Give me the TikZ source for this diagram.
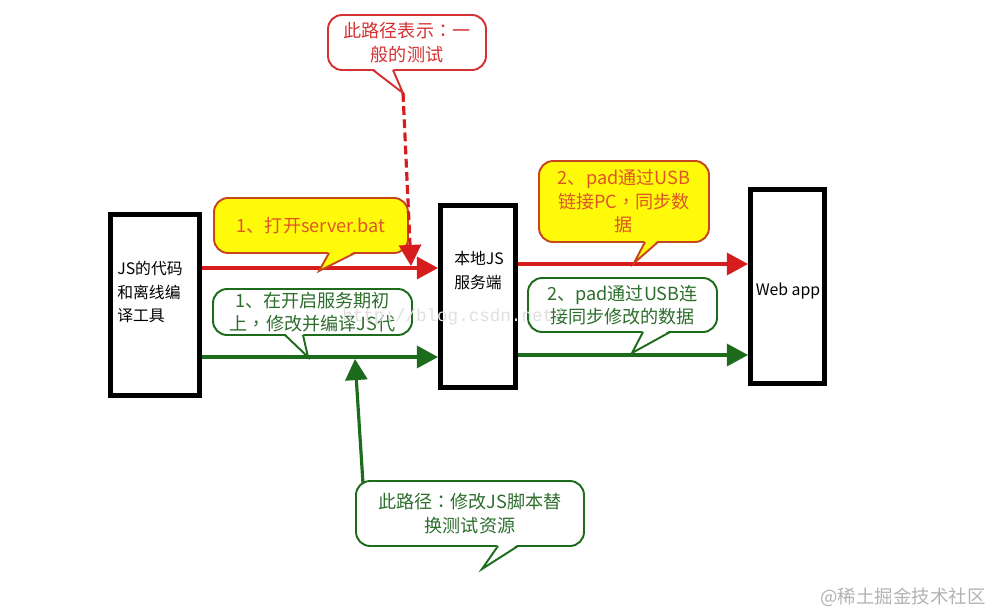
\documentclass[tikz,border=0pt]{standalone}
\usepackage{fontspec}
\newfontfamily\cjk{Noto Sans CJK SC}
\newfontfamily\cjktc{Noto Sans CJK TC}
\newfontfamily\wmfont{Liberation Mono}
\usetikzlibrary{arrows.meta}

\definecolor{lred}{RGB}{214,28,28}
\definecolor{nred}{RGB}{212,50,50}
\definecolor{yfill}{RGB}{255,250,10}
\definecolor{ybord}{RGB}{200,70,30}
\definecolor{ytext}{RGB}{222,85,40}
\definecolor{lgreen}{RGB}{28,108,28}
\definecolor{gtext}{RGB}{45,110,45}

\newcommand{\notetail}[5]{%
  \fill[#1] ([yshift=1pt]#3) -- (#5) -- ([yshift=1pt]#4) -- cycle;
  \draw[#2,line width=1.1pt] (#3) -- (#5) -- (#4);
}
\newcommand{\cpunct}[1]{{\cjktc #1}}

\begin{document}
\begin{tikzpicture}[x=0.02cm,y=-0.02cm,
  box/.style={draw,line width=2.8pt,outer sep=1.4pt,inner sep=0pt},
  boxtext/.style={font=\cjk\fontsize{9}{13.6}\selectfont,align=left,inner sep=0pt},
  note/.style={line width=1.1pt,rounded corners=8pt,inner sep=0pt,outer sep=0pt,align=center,font=\cjk\fontsize{10.3}{13.4}\selectfont},
  rednote/.style={note,draw=nred,fill=white,text=nred},
  yellownote/.style={note,draw=ybord,fill=yfill,text=ytext},
  greennote/.style={note,draw=lgreen,fill=white,text=gtext},
  redline/.style={draw=lred,line width=1.8pt,-{Triangle[length=12pt,width=12.5pt]}},
  greenline/.style={draw=lgreen,line width=1.8pt,-{Triangle[length=12pt,width=12.5pt]}}]

\useasboundingbox (0,0) rectangle (989,612);

\node[box,minimum width=1.78cm,minimum height=3.62cm] (src) at (155,305) {};
\node[box,minimum width=1.5cm,minimum height=3.64cm] (srv) at (478,296.5) {};
\node[box,minimum width=1.48cm,minimum height=3.88cm] (web) at (787.5,286.5) {};

\node[boxtext,anchor=west] (srctext) at (117,292) {JS的代码\\和离线编\\译工具};
\node[boxtext,anchor=west] (srvtext) at (454,270.5) {本地JS\\服务端};
\node[boxtext] (webtext) at (788,291) {Web app};

\draw[redline] (src.east |- 0,268) -- (srv.west |- 0,268);
\draw[greenline] (src.east |- 0,357) -- (srv.west |- 0,357);
\draw[redline] (srv.east |- 0,264) -- (web.west |- 0,264);
\draw[greenline] (srv.east |- 0,355) -- (web.west |- 0,355);

\node[rednote,minimum width=3.16cm,minimum height=1.1cm] (rnote) at (407,42.5) {此路径表示\cpunct{：}一\\般的测试};
\node[yellownote,minimum width=3.88cm,minimum height=1.1cm] (y1note) at (311,225.5) {1、打开server.bat};
\node[greennote,minimum width=3.98cm,minimum height=0.92cm] (g1note) at (312.5,312) {1、在开启服务期初\\上\cpunct{，}修改并编译JS代};
\node[yellownote,minimum width=3.4cm,minimum height=1.62cm] (y2note) at (624,201.5) {2、pad通过USB\\链接PC\cpunct{，}同步数\\据};
\node[greennote,minimum width=3.78cm,minimum height=1.08cm] (g2note) at (622.5,305) {2、pad通过USB连\\接同步修改的数据};
\node[greennote,minimum width=4.56cm,minimum height=1.3cm] (gbnote) at (470,513.5) {此路径\cpunct{：}修改JS脚本替\\换测试资源};

\coordinate (rta) at (rnote.south -| 373,0);
\coordinate (rtb) at (rnote.south -| 393,0);
\coordinate (rtip) at (403,93);
\coordinate (y1a) at (y1note.south -| 329,0);
\coordinate (y1b) at (y1note.south -| 355,0);
\coordinate (y1tip) at (319,271);
\coordinate (g1a) at (g1note.south -| 285,0);
\coordinate (g1b) at (g1note.south -| 303,0);
\coordinate (g1tip) at (308,357);
\coordinate (y2a) at (y2note.south -| 645,0);
\coordinate (y2b) at (y2note.south -| 658,0);
\coordinate (y2tip) at (634,263);
\coordinate (g2a) at (g2note.south -| 643,0);
\coordinate (g2b) at (g2note.south -| 670,0);
\coordinate (g2tip) at (632,353);
\coordinate (gba) at (gbnote.south -| 498,0);
\coordinate (gbb) at (gbnote.south -| 518,0);
\coordinate (gbtip) at (482,569);

\notetail{white}{nred}{rta}{rtb}{rtip}
\notetail{yfill}{ybord}{y1a}{y1b}{y1tip}
\notetail{white}{lgreen}{g1a}{g1b}{g1tip}
\notetail{yfill}{ybord}{y2a}{y2b}{y2tip}
\notetail{white}{lgreen}{g2a}{g2b}{g2tip}
\notetail{white}{lgreen}{gba}{gbb}{gbtip}

\coordinate (rdown) at (411,266);
\coordinate (gbfoot) at (363,483.5);
\coordinate (gup) at (355,359);
\draw[redline,dash pattern=on 5pt off 2.5pt] (rtip) -- (rdown);
\draw[greenline] (gbfoot) -- (gup);

\node[font=\wmfont\fontsize{10}{12}\selectfont,text=gray!25,inner sep=0pt] (csdn) at (453,317) {http://blog.csdn.net/};
\node[font=\cjk\fontsize{10.5}{12}\selectfont,text=gray!60,inner sep=0pt] (juejin) at (903,597) {@稀土掘金技术社区};
\end{tikzpicture}
\end{document}
